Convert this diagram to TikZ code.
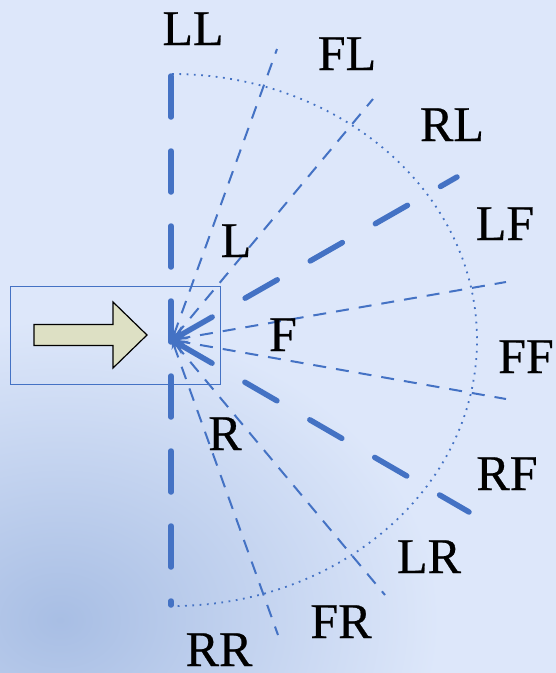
\documentclass[tikz,border=0pt]{standalone}
\usepackage{fontspec}
\setmainfont{Liberation Serif}
\newfontfamily\lblfont[FakeBold=0.5]{Liberation Serif}
\usetikzlibrary{arrows.meta}
\definecolor{bgblue}{RGB}{221,231,250}
\definecolor{bgdark}{RGB}{168,190,228}
\definecolor{lineblue}{RGB}{68,114,196}
\definecolor{arrowfill}{RGB}{221,224,196}
\begin{document}
\begin{tikzpicture}[x=1pt,y=-1pt,
  thickray/.style={draw=lineblue, line width=5.5pt, line cap=round, dash pattern=on 37pt off 38pt, arrows={Stealth[length=15pt,width=15pt]-}},
  thinray/.style={draw=lineblue, line width=2pt, dash pattern=on 13pt off 10pt, arrows={Stealth[length=9pt,width=7pt]-}},
  vertray/.style={draw=lineblue, line width=5.5pt, line cap=round, dash pattern=on 41pt off 34pt},
  dotarc/.style={draw=lineblue, line width=1.8pt, dash pattern=on 1.8pt off 5.5pt},
  lbl/.style={font=\lblfont\fontsize{50}{50}\selectfont, text=black, inner sep=0pt, anchor=base}
]
\useasboundingbox (0,0) rectangle (556,673);
\fill[bgblue] (0,0) rectangle (556,673);
\begin{scope}
\clip (0,0) rectangle (556,673);
\shade[inner color=bgdark, outer color=bgblue] (60,620) ellipse [x radius=380pt, y radius=300pt];
\end{scope}

% box and block arrow
\node[draw=lineblue, line width=1pt, minimum width=210pt, minimum height=98pt, inner sep=0pt] (box) at (115,335) {};
\draw[fill=arrowfill, line width=1.2pt, line join=miter] (34,324.5) -- (113,324.5) -- (113,302) -- (147,335) -- (113,368) -- (113,345.5) -- (34,345.5) -- cycle;

% centre and ray ends
\coordinate (c) at (172,340);
\coordinate (top) at (171,76);
\coordinate (bot) at (171,605);
\coordinate (e70) at (277,49);
\coordinate (e50) at (373,99);
\coordinate (e30) at (457,177);
\coordinate (e10) at (506,282);
\coordinate (m10) at (506,399);
\coordinate (m30) at (469,512);
\coordinate (m50) at (385,595);
\coordinate (m70) at (278,635);

% dotted half ellipse
\draw[dotarc] (172,74) arc[start angle=90, end angle=-90, x radius=305pt, y radius=266pt];

% rays
\draw[vertray] (top) -- (bot);
\draw[thinray] (c) -- (e70);
\draw[thinray] (c) -- (e50);
\draw[thickray] (c) -- (e30);
\draw[thinray] (c) -- (e10);
\draw[thinray] (c) -- (m10);
\draw[thickray] (c) -- (m30);
\draw[thinray] (c) -- (m50);
\draw[thinray] (c) -- (m70);

% labels
\node[lbl] (LL) at (193,45) {LL};
\node[lbl] (FL) at (347,70) {FL};
\node[lbl] (RL) at (452,141) {RL};
\node[lbl] (LF) at (505,240) {LF};
\node[lbl] (FF) at (526,373) {FF};
\node[lbl] (RF) at (507,490) {RF};
\node[lbl] (LR) at (429,573) {LR};
\node[lbl] (FR) at (341,638) {FR};
\node[lbl] (RR) at (219,666) {RR};
\node[lbl] (L) at (236,257) {L};
\node[lbl] (F) at (283,351) {F};
\node[lbl] (R) at (225,450) {R};
\end{tikzpicture}
\end{document}
